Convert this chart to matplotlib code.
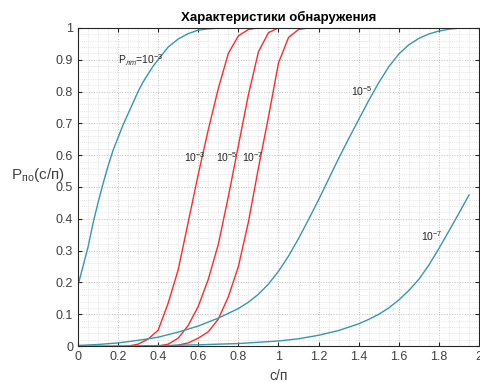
import numpy as np
import matplotlib
matplotlib.use('Agg')
import matplotlib.pyplot as plt
from matplotlib.ticker import MultipleLocator

plt.rcParams['font.family'] = ['Liberation Sans', 'DejaVu Sans']
plt.rcParams['mathtext.fontset'] = 'custom'
plt.rcParams['mathtext.rm'] = 'Liberation Sans'
plt.rcParams['mathtext.it'] = 'Liberation Sans:italic'

# --- данные ---
# красные кривые (шаг 0.05)
x_r1 = [0.25, 0.30, 0.35, 0.40, 0.45, 0.50, 0.55, 0.60, 0.65, 0.70, 0.75, 0.80, 0.85, 0.90]
p_r1 = [0.0, 0.006, 0.022, 0.050, 0.135, 0.24, 0.39, 0.54, 0.68, 0.81, 0.92, 0.975, 0.995, 1.0]
x_r2 = [0.40, 0.45, 0.50, 0.55, 0.60, 0.65, 0.70, 0.75, 0.80, 0.85, 0.90, 0.95, 1.00]
p_r2 = [0.0, 0.006, 0.025, 0.065, 0.125, 0.21, 0.32, 0.47, 0.63, 0.79, 0.925, 0.985, 1.0]
x_r3 = [0.45, 0.50, 0.55, 0.60, 0.65, 0.70, 0.75, 0.80, 0.85, 0.90, 0.95, 1.00, 1.05, 1.10, 1.15]
p_r3 = [0.0, 0.003, 0.01, 0.025, 0.045, 0.085, 0.155, 0.25, 0.39, 0.56, 0.72, 0.89, 0.97, 0.995, 1.0]

# бирюзовые кривые
x_t1 = [0, 0.025, 0.05, 0.075, 0.1, 0.125, 0.15, 0.175, 0.2, 0.225, 0.25, 0.275, 0.3, 0.325, 0.35,
        0.375, 0.4, 0.45, 0.5, 0.55, 0.6, 0.65, 0.7, 0.8, 1.0, 2.0]
p_t1 = [0.19, 0.25, 0.31, 0.385, 0.45, 0.51, 0.565, 0.615, 0.655, 0.695, 0.73, 0.765, 0.80, 0.83, 0.855,
        0.88, 0.90, 0.94, 0.965, 0.982, 0.993, 0.997, 0.999, 1.0, 1.0, 1.0]
x_t2 = [0, 0.1, 0.2, 0.3, 0.4, 0.5, 0.6, 0.7, 0.8, 0.85, 0.9, 0.95, 1.0, 1.05, 1.1, 1.15, 1.2, 1.25,
        1.3, 1.35, 1.4, 1.45, 1.5, 1.55, 1.6, 1.65, 1.7, 1.75, 1.8, 1.85, 1.9, 2.0]
p_t2 = [0.002, 0.005, 0.01, 0.018, 0.028, 0.044, 0.063, 0.088, 0.118, 0.138, 0.163, 0.195, 0.235, 0.283,
        0.338, 0.398, 0.46, 0.525, 0.59, 0.652, 0.712, 0.772, 0.828, 0.878, 0.918, 0.947, 0.967, 0.981,
        0.99, 0.996, 0.999, 1.0]
x_t3 = [0, 0.2, 0.4, 0.6, 0.8, 1.0, 1.1, 1.2, 1.3, 1.4, 1.45, 1.5, 1.55, 1.6, 1.65, 1.7, 1.75, 1.8,
        1.85, 1.9, 1.95]
p_t3 = [0.0, 0.0005, 0.0015, 0.004, 0.008, 0.016, 0.023, 0.034, 0.049, 0.07, 0.084, 0.10, 0.12, 0.145,
        0.175, 0.21, 0.255, 0.307, 0.362, 0.418, 0.475]

teal = '#3399ad'
red = '#ff2a2a'

fig = plt.figure(figsize=(4.81, 3.82), dpi=100)
ax = fig.add_axes([0.162, 0.094, 0.834, 0.833])

ax.plot(x_r1, p_r1, color=red, lw=1)
ax.plot(x_r2, p_r2, color=red, lw=1)
ax.plot(x_r3, p_r3, color=red, lw=1)
ax.plot(x_t1, p_t1, color=teal, lw=1)
ax.plot(x_t2, p_t2, color=teal, lw=1)
ax.plot(x_t3, p_t3, color=teal, lw=1)

ax.set_xlim(0, 2)
ax.set_ylim(0, 1)
ax.xaxis.set_minor_locator(MultipleLocator(0.05))
ax.yaxis.set_minor_locator(MultipleLocator(0.02))
ax.set_xticks(np.arange(0, 2.01, 0.2))
ax.set_xticklabels(['0', '0.2', '0.4', '0.6', '0.8', '1', '1.2', '1.4', '1.6', '1.8', '2'])
ax.set_yticks(np.arange(0, 1.01, 0.1))
ax.set_yticklabels(['0', '0.1', '0.2', '0.3', '0.4', '0.5', '0.6', '0.7', '0.8', '0.9', '1'])
ax.grid(True, which='major', color='#c0c0c0', ls=':', lw=0.7)
ax.grid(True, which='minor', color='#d4d4d4', ls=':', lw=0.5)
ax.tick_params(which='both', direction='in', top=True, right=True, labelsize=9,
               colors='#262626', labelcolor='#404040')
ax.tick_params(which='minor', length=0)
ax.tick_params(which='major', length=3)
for s in ax.spines.values():
    s.set_color('#262626')
    s.set_linewidth(0.8)

ax.set_title('Характеристики обнаружения', fontsize=9.5, fontweight='bold', pad=5)
ax.set_xlabel('с/п', fontsize=10, color='#404040', labelpad=4)
ax.set_ylabel('P$_{\\mathrm{по}}$(с/п)', fontsize=11, color='#404040', rotation=0, labelpad=0)
ax.yaxis.set_label_coords(-0.1, 0.51)

ax.text(0.2, 0.9, 'P$_{\\mathit{лт}}$=10$^{-3}$', fontsize=7.5, color='#262626', va='center')
ax.text(0.53, 0.595, '10$^{-3}$', fontsize=7.5, color='#262626', va='center')
ax.text(0.69, 0.595, '10$^{-5}$', fontsize=7.5, color='#262626', va='center')
ax.text(0.82, 0.595, '10$^{-7}$', fontsize=7.5, color='#262626', va='center')
ax.text(1.36, 0.80, '10$^{-5}$', fontsize=7.5, color='#262626', va='center')
ax.text(1.71, 0.345, '10$^{-7}$', fontsize=7.5, color='#262626', va='center')

fig.savefig('out.png', dpi=100)
